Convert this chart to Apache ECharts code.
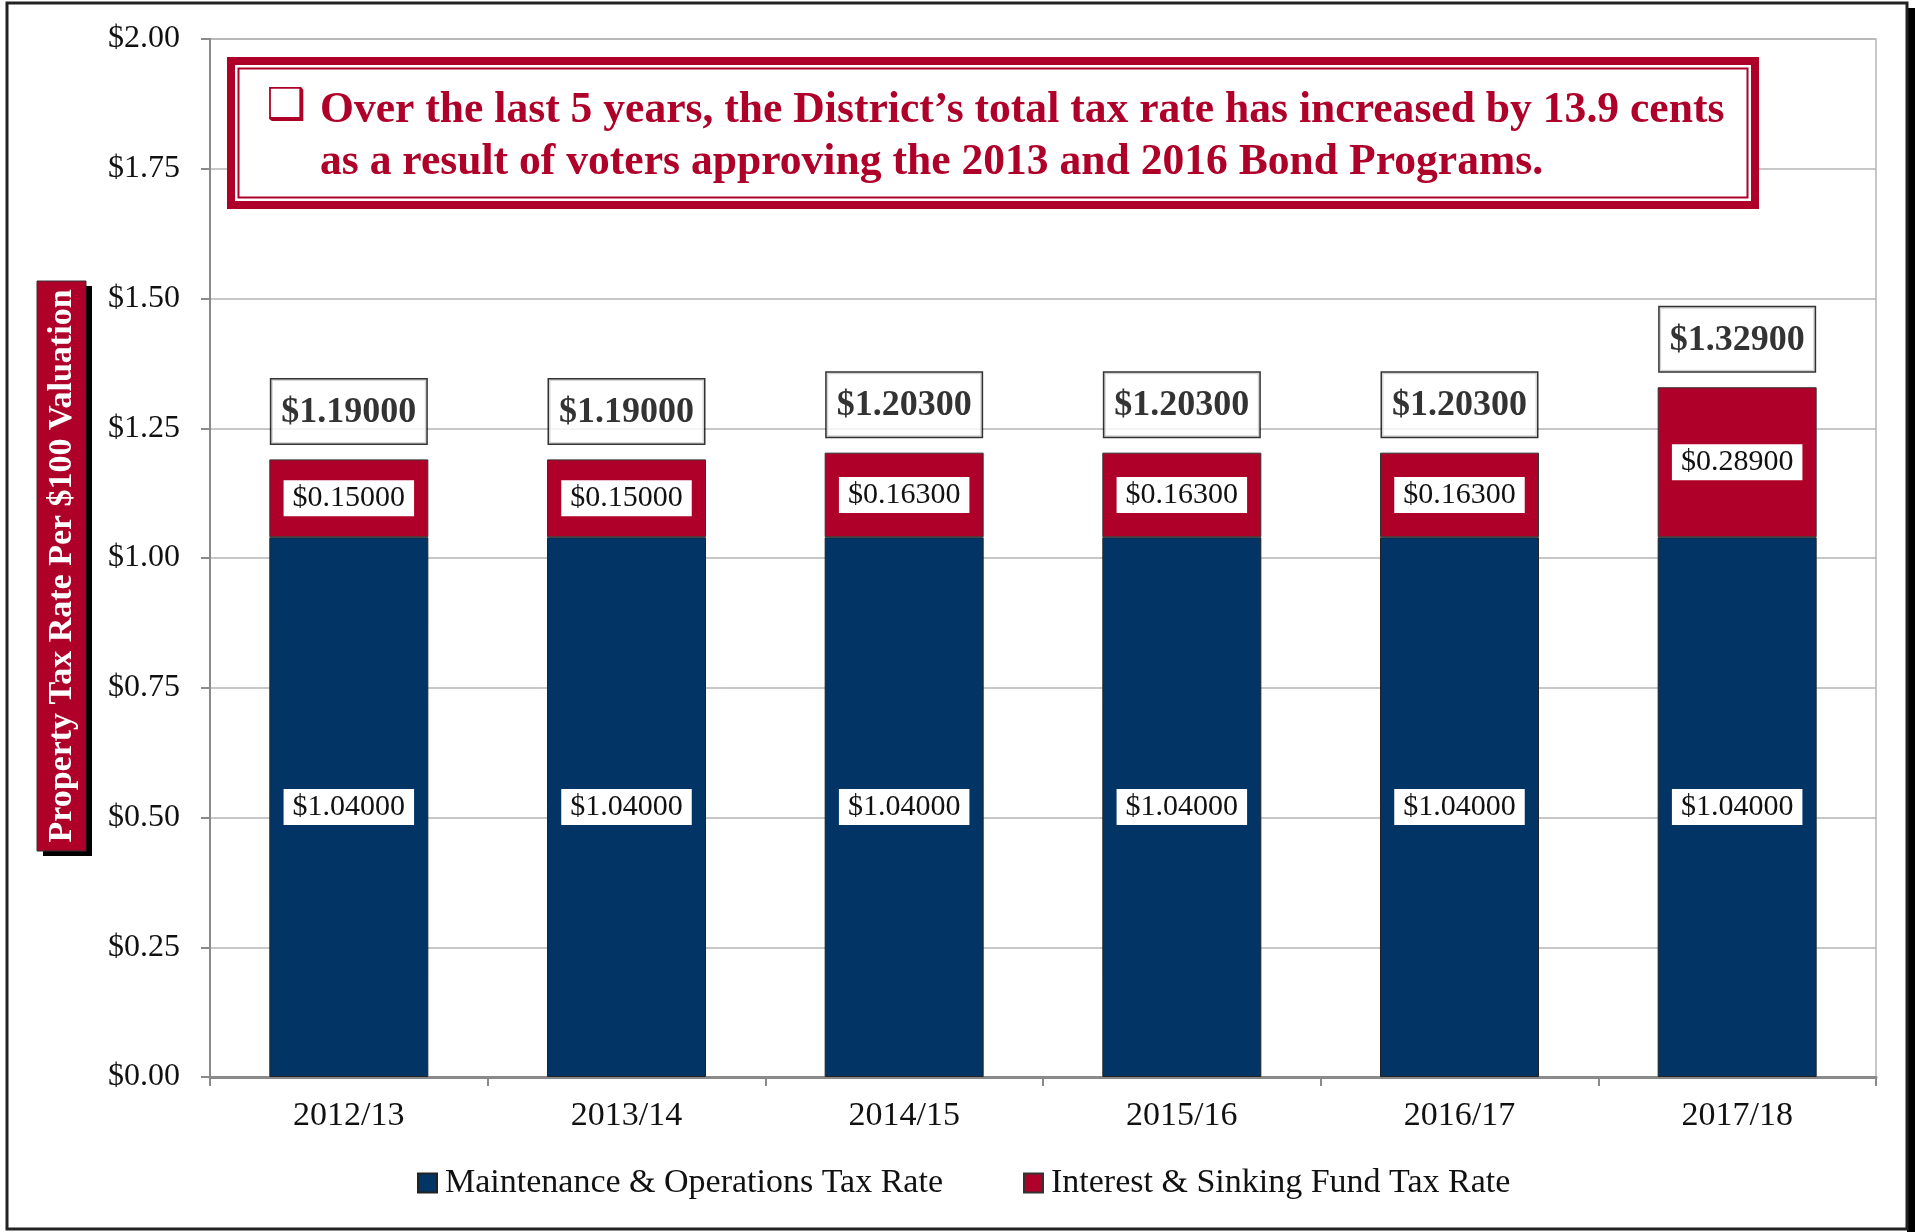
<!DOCTYPE html>
<html>
<head>
<meta charset="utf-8">
<style>
  html, body { margin: 0; padding: 0; background: #fff; }
  #chart { width: 1915px; height: 1232px; }
</style>
<script src="https://cdn.jsdelivr.net/npm/echarts@6/dist/echarts.min.js"></script>
</head>
<body>
<div id="chart"></div>
<script>
// ---- data ----
const categories = ['2012/13', '2013/14', '2014/15', '2015/16', '2016/17', '2017/18'];
const moRate = [1.04, 1.04, 1.04, 1.04, 1.04, 1.04];
const isRate = [0.15, 0.15, 0.163, 0.163, 0.163, 0.289];
const seriesNames = ['Maintenance & Operations Tax Rate', 'Interest & Sinking Fund Tax Rate'];
const yTicks = { min: 0, max: 2, interval: 0.25 };
const yTitle = 'Property Tax Rate Per $100 Valuation';
const noteLine1 = 'Over the last 5 years, the District\u2019s total tax rate has increased by 13.9 cents';
const noteLine2 = 'as a result of voters approving the 2013 and 2016 Bond Programs.';

const totals = moRate.map((v, i) => Math.round((v + isRate[i]) * 1e5) / 1e5);

const SERIF = "'Liberation Serif', 'Times New Roman', serif";
const BLUE = '#023466';
const RED = '#ae0029';

const chart = echarts.init(document.getElementById('chart'), null, { renderer: 'canvas' });

const insideLabel = {
  show: true,
  position: 'inside',
  formatter: p => '$' + p.value.toFixed(5),
  backgroundColor: '#ffffff',
  padding: [4, 9, 2, 9],
  color: '#111',
  fontFamily: SERIF,
  fontSize: 30
};

chart.setOption({
  animation: false,
  backgroundColor: '#ffffff',
  grid: {
    left: 210, right: 39, top: 39, bottom: 155,
    show: true, borderColor: '#b5b5b5', borderWidth: 1.5, backgroundColor: 'transparent'
  },
  legend: {
    data: seriesNames,
    left: 417, top: 1166,
    icon: 'rect', itemWidth: 19, itemHeight: 19, itemGap: 80,
    padding: 0,
    textStyle: { fontFamily: SERIF, fontSize: 34, color: '#111', padding: [0, 0, 0, 3] }
  },
  xAxis: {
    type: 'category',
    data: categories,
    axisLine: { show: true, lineStyle: { color: '#8a8a8a', width: 3 } },
    axisTick: { show: true, alignWithLabel: false, length: 9, lineStyle: { color: '#8a8a8a', width: 2 } },
    axisLabel: { fontFamily: SERIF, fontSize: 34, color: '#111', margin: 22 },
    splitLine: { show: false }
  },
  yAxis: {
    type: 'value',
    min: yTicks.min, max: yTicks.max, interval: yTicks.interval,
    axisLine: { show: true, lineStyle: { color: '#8a8a8a', width: 2 } },
    axisTick: { show: true, inside: false, length: 9, lineStyle: { color: '#8a8a8a', width: 2 } },
    axisLabel: { fontFamily: SERIF, fontSize: 32, color: '#111', margin: 30,
      formatter: v => '$' + v.toFixed(2) },
    splitLine: { show: true, lineStyle: { color: '#b5b5b5', width: 1.5 } }
  },
  series: [
    {
      name: seriesNames[0], type: 'bar', stack: 'tax', barWidth: 159,
      data: moRate,
      itemStyle: { color: BLUE, borderColor: '#222', borderWidth: 1 },
      label: insideLabel
    },
    {
      name: seriesNames[1], type: 'bar', stack: 'tax', barWidth: 159,
      data: isRate,
      itemStyle: { color: RED, borderColor: '#333', borderWidth: 1 },
      label: insideLabel
    },
    {
      name: 'Total', type: 'scatter',
      data: totals,
      symbolSize: 0,
      itemStyle: { color: 'transparent' },
      label: {
        show: true, position: 'top', distance: 16,
        formatter: p => '$' + p.value.toFixed(5),
        backgroundColor: '#ffffff', borderColor: '#000', borderWidth: 1.5,
        padding: [15, 10, 13, 10],
        color: '#000', fontFamily: SERIF, fontWeight: 'bold', fontSize: 36
      },
      z: 5
    }
  ],
  graphic: [
    // outer frame with shadow on right
    { type: 'rect', shape: { x: 1907, y: 8, width: 8, height: 1224 }, style: { fill: '#000' }, z: 0 },
    { type: 'rect', shape: { x: 7, y: 3, width: 1900, height: 1226 },
      style: { fill: 'none', stroke: '#222', lineWidth: 3 }, z: 0 },
    // y-axis title box
    { type: 'rect', shape: { x: 43, y: 286, width: 49, height: 570 }, style: { fill: '#000' }, z: 10 },
    { type: 'rect', shape: { x: 37, y: 281, width: 49, height: 570 },
      style: { fill: RED, stroke: '#333', lineWidth: 1 }, z: 11 },
    { type: 'text', x: 62, y: 566, rotation: Math.PI / 2, z: 12,
      style: { text: yTitle, fill: '#fff', font: 'bold 34px ' + SERIF, align: 'center', verticalAlign: 'middle' } },
    // annotation box
    { type: 'rect', shape: { x: 231, y: 61, width: 1524, height: 144 },
      style: { fill: '#fff', stroke: RED, lineWidth: 8 }, z: 20 },
    { type: 'rect', shape: { x: 238.5, y: 68.5, width: 1509, height: 129 },
      style: { fill: 'none', stroke: RED, lineWidth: 2 }, z: 21 },
    { type: 'text', x: 286, y: 108, z: 22,
      style: { text: '\u2751', fill: RED, font: "bold 44px 'DejaVu Sans', sans-serif", align: 'center', verticalAlign: 'middle' } },
    { type: 'text', x: 320, y: 111, z: 22,
      style: { text: noteLine1, fill: RED, font: 'bold 43.6px ' + SERIF, align: 'left', verticalAlign: 'middle' } },
    { type: 'text', x: 320, y: 163, z: 22,
      style: { text: noteLine2, fill: RED, font: 'bold 43.6px ' + SERIF, align: 'left', verticalAlign: 'middle' } }
  ]
});
</script>
</body>
</html>
